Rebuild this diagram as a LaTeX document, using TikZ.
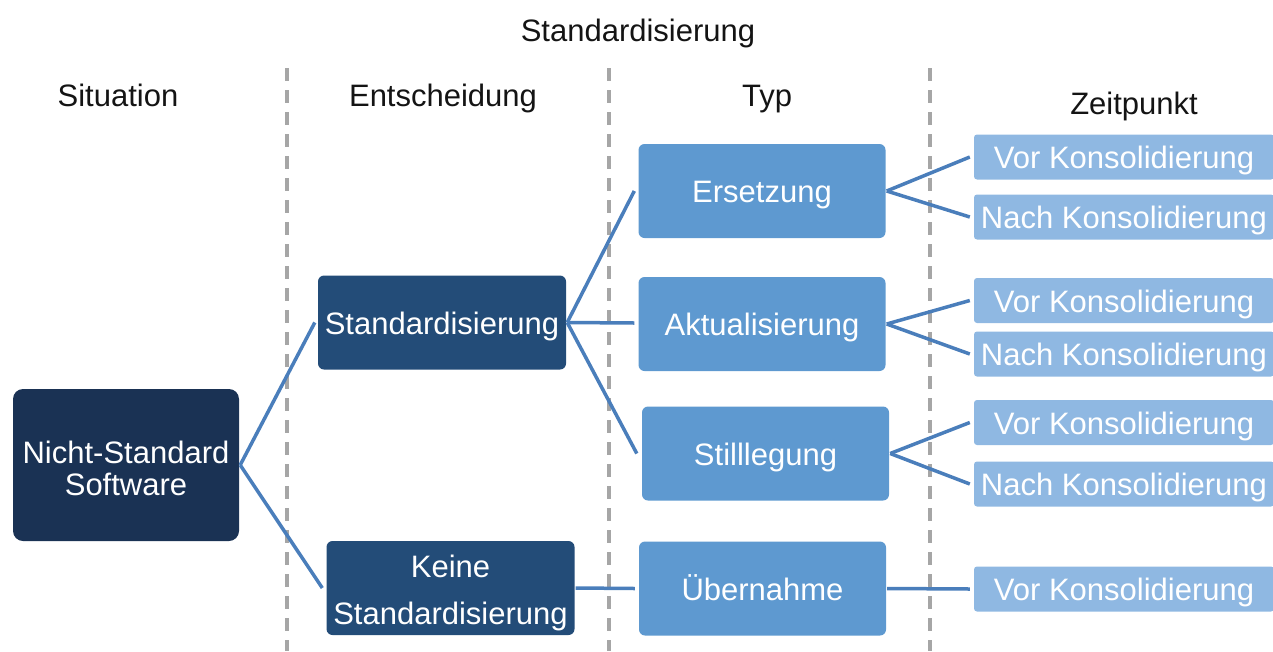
\documentclass[tikz,border=0pt]{standalone}
\usepackage{fontspec}
\setmainfont{Liberation Sans}
\definecolor{navy}{RGB}{26,50,84}
\definecolor{decc}{RGB}{35,76,120}
\definecolor{typc}{RGB}{94,153,208}
\definecolor{leafc}{RGB}{143,184,226}
\definecolor{linec}{RGB}{74,126,187}
\definecolor{dashc}{RGB}{166,166,166}
\definecolor{headc}{RGB}{20,20,20}
\begin{document}
\begin{tikzpicture}[x=1pt,y=-1pt,
  txt/.style={font=\fontsize{31}{34}\selectfont},
  onel/.style={txt, text height=25.5pt, text depth=2pt},
  head/.style={txt, text=headc, anchor=base, inner sep=0pt},
  boxbase/.style={inner sep=0pt, text=white, align=center},
  sitbox/.style={boxbase, fill=navy, rounded corners=10pt, minimum width=226pt, minimum height=152pt, font=\fontsize{31}{32.5}\selectfont, text height=61pt, text depth=0pt},
  decbox/.style={boxbase, fill=decc, rounded corners=6pt, minimum width=248pt, minimum height=94pt},
  typbox/.style={boxbase, onel, fill=typc, rounded corners=6pt, minimum width=247pt, minimum height=94pt},
  leafbox/.style={boxbase, onel, fill=leafc, rounded corners=3pt, minimum width=300pt, minimum height=45pt},
  conn/.style={draw=linec, line width=3.5pt},
  sepline/.style={draw=dashc, line width=3.2pt, dash pattern=on 13pt off 9pt}
]
\useasboundingbox (0,0) rectangle (1273,651);
\clip (0,0) rectangle (1273,651);

% separators
\coordinate (s1t) at (287,68);  \coordinate (s1b) at (287,651);
\coordinate (s2t) at (609,68);  \coordinate (s2b) at (609,651);
\coordinate (s3t) at (930,68);  \coordinate (s3b) at (930,651);
\draw[sepline] (s1t) -- (s1b);
\draw[sepline] (s2t) -- (s2b);
\draw[sepline] (s3t) -- (s3b);

% headers
\node[head] (hstd) at (638,41) {Standardisierung};
\node[head] (hsit) at (118,106) {Situation};
\node[head] (hent) at (443,106) {Entscheidung};
\node[head] (htyp) at (767,106) {Typ};
\node[head] (hzeit) at (1134,114) {Zeitpunkt};

% boxes
\node[sitbox] (ns) at (126,465) {Nicht-Standard\\Software};
\node[decbox, onel] (std) at (442,322.5) {Standardisierung};
\node[decbox, font=\fontsize{31}{47}\selectfont, text height=72.5pt, text depth=0pt] (keine) at (450.5,588) {Keine\\Standardisierung};

\node[typbox] (ers) at (762,191) {Ersetzung};
\node[typbox] (akt) at (762,324) {Aktualisierung};
\node[typbox] (still) at (765.5,453.5) {Stilllegung};
\node[typbox] (ueb) at (762.5,588.5) {Übernahme};

\node[leafbox] (v1) at (1124,157) {Vor Konsolidierung};
\node[leafbox] (n1) at (1124,217) {Nach Konsolidierung};
\node[leafbox] (v2) at (1124,300.5) {Vor Konsolidierung};
\node[leafbox] (n2) at (1124,354) {Nach Konsolidierung};
\node[leafbox] (v3) at (1124,422.5) {Vor Konsolidierung};
\node[leafbox] (n3) at (1124,484) {Nach Konsolidierung};
\node[leafbox] (v4) at (1124,589) {Vor Konsolidierung};

% connectors
\draw[conn] ([xshift=1pt]ns.east) -- ([xshift=-3pt]std.west);
\draw[conn] ([xshift=1pt]ns.east) -- ([xshift=-4pt]keine.west);
\draw[conn] ([xshift=1pt]std.east) -- ([xshift=-4pt]ers.west);
\draw[conn] ([xshift=1pt]std.east) -- ([xshift=-4pt,yshift=1pt]akt.west);
\draw[conn] ([xshift=1pt]std.east) -- ([xshift=-5pt]still.west);
\draw[conn] ([xshift=1pt]keine.east) -- ([xshift=-4pt]ueb.west);
\draw[conn] ([xshift=1pt]ers.east) -- ([xshift=-4pt]v1.west);
\draw[conn] ([xshift=1pt]ers.east) -- ([xshift=-4pt]n1.west);
\draw[conn] ([xshift=1pt]akt.east) -- ([xshift=-4pt]v2.west);
\draw[conn] ([xshift=1pt]akt.east) -- ([xshift=-4pt]n2.west);
\draw[conn] ([xshift=1pt]still.east) -- ([xshift=-4pt]v3.west);
\draw[conn] ([xshift=1pt]still.east) -- ([xshift=-4pt]n3.west);
\draw[conn] ([xshift=1pt]ueb.east) -- ([xshift=-4pt]v4.west);
\end{tikzpicture}
\end{document}
